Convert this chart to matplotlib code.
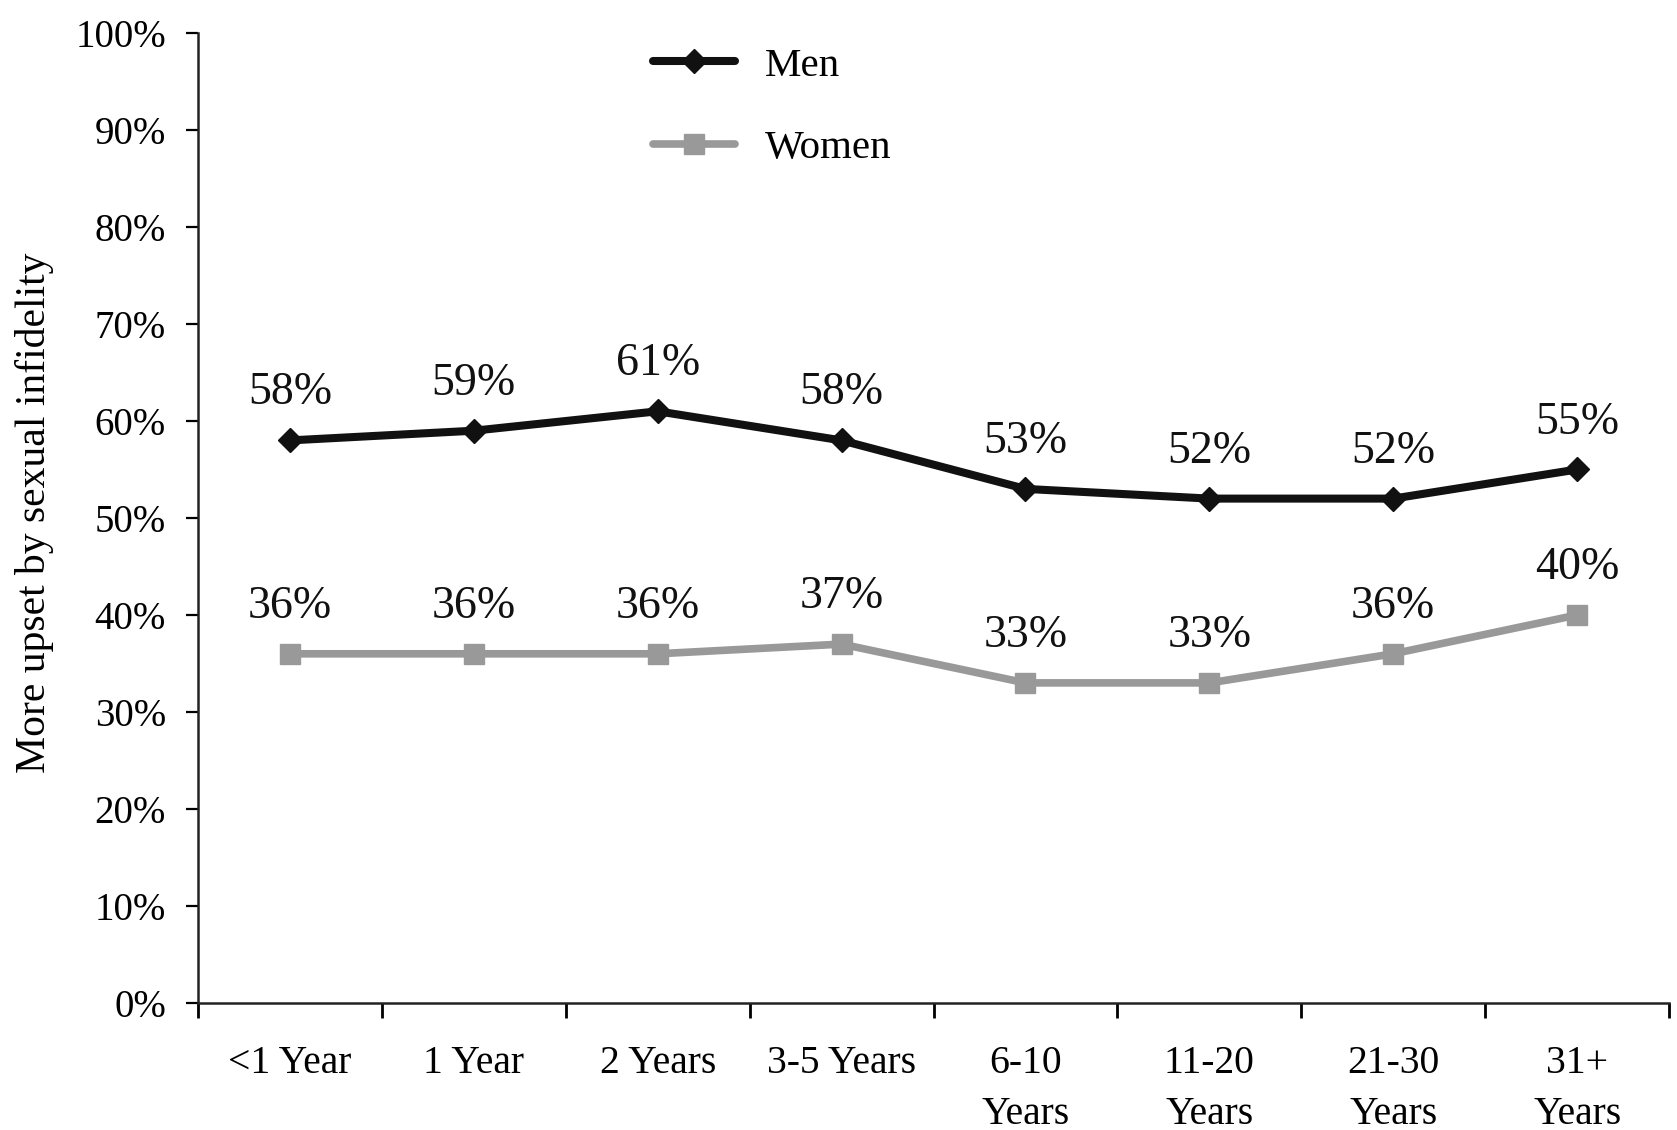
import matplotlib.pyplot as plt
import numpy as np

categories = ['<1 Year', '1 Year', '2 Years', '3-5 Years', '6-10\nYears',
              '11-20\nYears', '21-30\nYears', '31+\nYears']
men = [58, 59, 61, 58, 53, 52, 52, 55]
women = [36, 36, 36, 37, 33, 33, 36, 40]
yticks = [0, 10, 20, 30, 40, 50, 60, 70, 80, 90, 100]

plt.rcParams['font.family'] = ['Liberation Serif', 'DejaVu Serif']

fig = plt.figure(figsize=(16.77, 11.30), dpi=100)
ax = fig.add_axes([198/1677, 1 - 1003/1130, (1669-198)/1677, (1003-33)/1130])

x = np.arange(len(categories)) + 0.5
ax.plot(x, men, color='#111111', lw=5.8, marker='D', ms=12,
        solid_capstyle='round', label='Men')
ax.plot(x, women, color='#999999', lw=5.5, marker='s', ms=15,
        solid_capstyle='round', label='Women')

for xi, v in zip(x, men):
    ax.annotate(f'{v}%', (xi, v), xytext=(0, 34), textcoords='offset points',
                ha='center', va='center', fontsize=33, color='#111111')
for xi, v in zip(x, women):
    ax.annotate(f'{v}%', (xi, v), xytext=(0, 34), textcoords='offset points',
                ha='center', va='center', fontsize=33, color='#111111')

ax.set_xlim(0, len(categories))
ax.set_ylim(0, 100)
ax.set_xticks(np.arange(len(categories) + 1))
ax.set_xticklabels([])
ax.set_xticks(x, minor=True)
ax.set_xticklabels(categories, minor=True, fontsize=28.5, linespacing=1.5, va='top')
ax.tick_params(axis='x', which='minor', length=0, pad=30)
ax.tick_params(axis='x', which='major', length=11, width=2, direction='out')
ax.set_yticks(yticks)
ax.set_yticklabels([f'{t}%' for t in yticks], fontsize=28)
ax.tick_params(axis='y', length=9, width=1.6, pad=14, direction='out')

for s in ['top', 'right']:
    ax.spines[s].set_visible(False)
for s in ['left', 'bottom']:
    ax.spines[s].set_linewidth(1.8)
    ax.spines[s].set_color('#222222')

ax.set_ylabel('More upset by sexual infidelity', fontsize=30)
ax.yaxis.set_label_coords(-0.098, 0.505)

ax.legend(loc='upper left', bbox_to_anchor=(616/1677, 1 - 10/1130),
          bbox_transform=fig.transFigure, frameon=False, fontsize=29.5,
          handlelength=2.0, handletextpad=0.73, labelspacing=1.1)

fig.savefig('out.png', dpi=100)
